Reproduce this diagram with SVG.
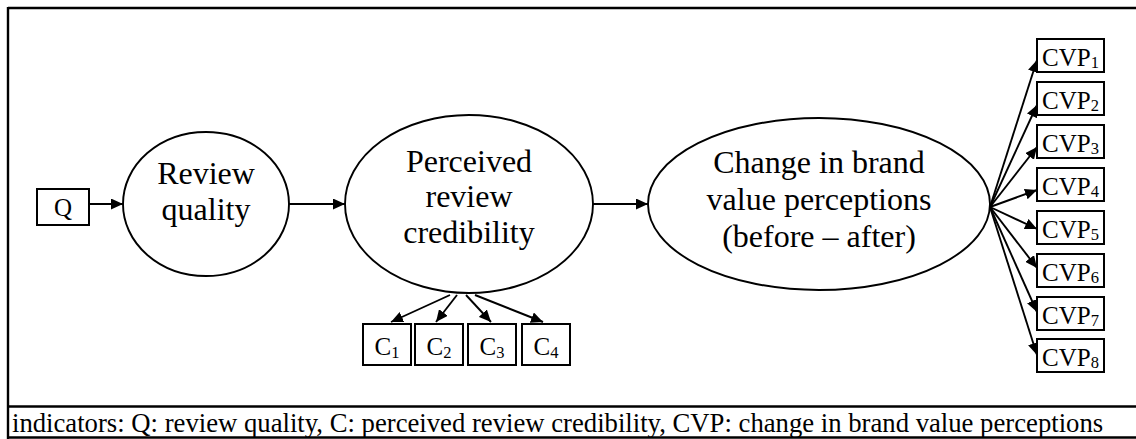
<svg xmlns="http://www.w3.org/2000/svg" width="1136" height="439" viewBox="0 0 1136 439">
  <style>
    .lv { font-family: "Liberation Serif", "Times New Roman", serif; font-size: 32px; text-anchor: middle; fill: #000; }
    .box { font-family: "Liberation Serif", "Times New Roman", serif; font-size: 25px; text-anchor: middle; fill: #000; }
    .sub { font-size: 16.5px; }
    .cap { font-family: "Liberation Serif", "Times New Roman", serif; font-size: 26.7px; fill: #000; }
    .node { fill: #fff; stroke: #000; stroke-width: 1.9; }
    .ind { fill: #fff; stroke: #000; stroke-width: 2; }
    .edge { stroke: #000; stroke-width: 1.9; fill: none; marker-end: url(#arrow); }
    .frame { stroke: #000; stroke-width: 2.4; fill: none; }
  </style>
  <defs>
    <marker id="arrow" markerUnits="userSpaceOnUse" markerWidth="13" markerHeight="11" refX="12" refY="5.5" orient="auto">
      <path d="M0,0 L12,5.5 L0,11 Z" fill="#000"/>
    </marker>
  </defs>

  <rect width="1136" height="439" fill="#fff"/>

  <!-- outer frame with caption row -->
  <g id="frame">
    <line class="frame" x1="8" y1="8" x2="1136" y2="8"/>
    <line class="frame" x1="8" y1="7" x2="8" y2="439"/>
    <line class="frame" x1="8" y1="406.5" x2="1136" y2="406.5"/>
    <line class="frame" x1="8" y1="437.5" x2="1136" y2="437.5"/>
  </g>

  <!-- connectors -->
  <g id="connectors">
    <line class="edge" x1="89" y1="204" x2="123" y2="204"/>
    <line class="edge" x1="289" y1="204" x2="345" y2="204"/>
    <line class="edge" x1="593" y1="204" x2="648" y2="204"/>
    <line class="edge" x1="450" y1="295" x2="391" y2="322"/>
    <line class="edge" x1="457" y1="295" x2="436" y2="322"/>
    <line class="edge" x1="466" y1="295" x2="491" y2="322"/>
    <line class="edge" x1="475" y1="295" x2="543" y2="322"/>
    <line class="edge" x1="990" y1="207" x2="1037" y2="60"/>
    <line class="edge" x1="990" y1="207" x2="1037" y2="105"/>
    <line class="edge" x1="990" y1="207" x2="1037" y2="147"/>
    <line class="edge" x1="990" y1="207" x2="1037" y2="190"/>
    <line class="edge" x1="990" y1="207" x2="1037" y2="229"/>
    <line class="edge" x1="990" y1="207" x2="1037" y2="268"/>
    <line class="edge" x1="990" y1="207" x2="1037" y2="312"/>
    <line class="edge" x1="990" y1="207" x2="1037" y2="355"/>
  </g>

  <g id="node-q">
    <rect class="ind" x="37" y="189" width="52" height="36"/>
    <text class="box" x="63" y="216">Q</text>
  </g>

  <g id="node-review-quality">
    <ellipse class="node" cx="206" cy="204" rx="83" ry="72"/>
    <text class="lv" x="206" y="184">Review</text>
    <text class="lv" x="206" y="220">quality</text>
  </g>

  <g id="node-credibility">
    <ellipse class="node" cx="469" cy="204" rx="124" ry="89"/>
    <text class="lv" x="469" y="172">Perceived</text>
    <text class="lv" x="469" y="207">review</text>
    <text class="lv" x="469" y="243">credibility</text>
  </g>

  <g id="node-brand-value">
    <ellipse class="node" cx="819" cy="204" rx="171" ry="86"/>
    <text class="lv" x="819" y="173">Change in brand</text>
    <text class="lv" x="819" y="210">value perceptions</text>
    <text class="lv" x="819" y="247">(before – after)</text>
  </g>

  <g id="node-c1">
    <rect class="ind" x="363" y="324" width="48" height="41"/>
    <text class="box" x="387" y="355">C<tspan class="sub" dy="3">1</tspan></text>
  </g>
  <g id="node-c2">
    <rect class="ind" x="415" y="324" width="48" height="41"/>
    <text class="box" x="439" y="355">C<tspan class="sub" dy="3">2</tspan></text>
  </g>
  <g id="node-c3">
    <rect class="ind" x="468" y="324" width="48" height="41"/>
    <text class="box" x="492" y="355">C<tspan class="sub" dy="3">3</tspan></text>
  </g>
  <g id="node-c4">
    <rect class="ind" x="522" y="324" width="48" height="41"/>
    <text class="box" x="546" y="355">C<tspan class="sub" dy="3">4</tspan></text>
  </g>

  <g id="node-cvp1">
    <rect class="ind" x="1037" y="39" width="67" height="33"/>
    <text class="box" x="1070.5" y="66">CVP<tspan class="sub" dy="2">1</tspan></text>
  </g>
  <g id="node-cvp2">
    <rect class="ind" x="1037" y="82" width="67" height="33"/>
    <text class="box" x="1070.5" y="109">CVP<tspan class="sub" dy="2">2</tspan></text>
  </g>
  <g id="node-cvp3">
    <rect class="ind" x="1037" y="125" width="67" height="33"/>
    <text class="box" x="1070.5" y="152">CVP<tspan class="sub" dy="2">3</tspan></text>
  </g>
  <g id="node-cvp4">
    <rect class="ind" x="1037" y="168" width="67" height="33"/>
    <text class="box" x="1070.5" y="195">CVP<tspan class="sub" dy="2">4</tspan></text>
  </g>
  <g id="node-cvp5">
    <rect class="ind" x="1037" y="211" width="67" height="33"/>
    <text class="box" x="1070.5" y="238">CVP<tspan class="sub" dy="2">5</tspan></text>
  </g>
  <g id="node-cvp6">
    <rect class="ind" x="1037" y="254" width="67" height="33"/>
    <text class="box" x="1070.5" y="281">CVP<tspan class="sub" dy="2">6</tspan></text>
  </g>
  <g id="node-cvp7">
    <rect class="ind" x="1037" y="297" width="67" height="33"/>
    <text class="box" x="1070.5" y="324">CVP<tspan class="sub" dy="2">7</tspan></text>
  </g>
  <g id="node-cvp8">
    <rect class="ind" x="1037" y="339" width="67" height="33"/>
    <text class="box" x="1070.5" y="366">CVP<tspan class="sub" dy="2">8</tspan></text>
  </g>

  <g id="caption">
    <text class="cap" x="12" y="432">indicators: Q: review quality, C: perceived review credibility, CVP: change in brand value perceptions</text>
  </g>
</svg>
